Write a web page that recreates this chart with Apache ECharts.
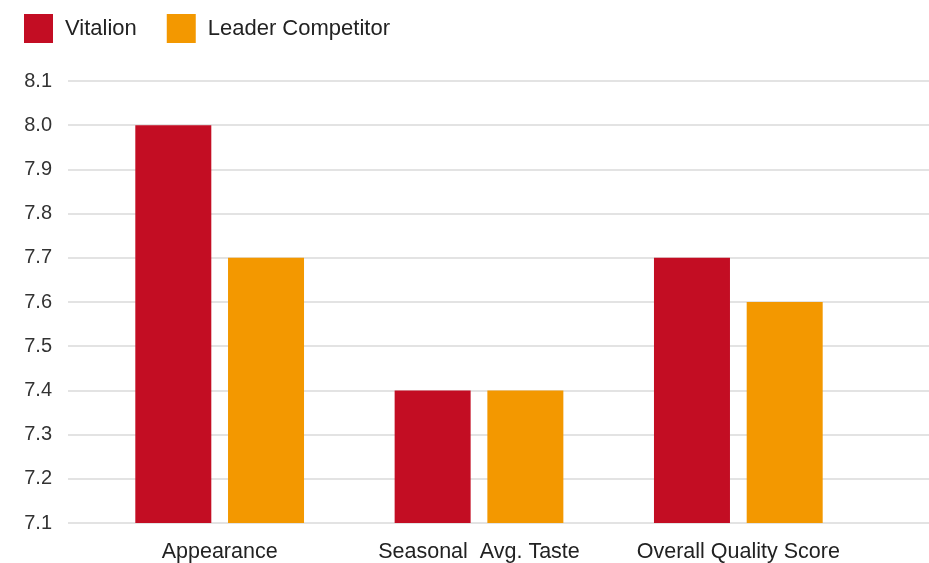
<!DOCTYPE html>
<html><head><meta charset="utf-8">
<script src="https://cdn.jsdelivr.net/npm/echarts@6/dist/echarts.min.js"></script>
<style>html,body{margin:0;padding:0;background:#fff}#c{width:929px;height:563px}</style>
</head><body><div id="c"></div>
<script>
const categories = ['Appearance', 'Seasonal  Avg. Taste', 'Overall Quality Score'];
const vitalion = [8.0, 7.4, 7.7];
const leader = [7.7, 7.4, 7.6];
const seriesNames = ['Vitalion', 'Leader Competitor'];
const yMin = 7.1, yMax = 8.1, yStep = 0.1;

const chart = echarts.init(document.getElementById('c'), null, {renderer: 'canvas'});
const font = 'Liberation Sans, Helvetica, Arial, sans-serif';
chart.setOption({
  animation: false,
  textStyle: {fontFamily: font},
  legend: {
    left: 19, top: 9, itemWidth: 29, itemHeight: 29, itemGap: 30,
    icon: 'rect',
    textStyle: {fontSize: 22, color: '#222', fontFamily: font, padding: [0, 0, 0, 7]},
    data: seriesNames
  },
  grid: [
    {left: 68, right: 0, top: 81, bottom: 40, containLabel: false},
    {left: 90, right: 61, top: 81, bottom: 40, containLabel: false}
  ],
  xAxis: [
    {gridIndex: 0, type: 'value', min: 0, max: 1, show: false},
    {gridIndex: 1, type: 'category', data: categories,
     axisLine: {show: false}, axisTick: {show: false},
     axisLabel: {fontSize: 21.5, color: '#222', margin: 18, fontFamily: font,
       interval: 0, hideOverlap: false}}
  ],
  yAxis: [
    {gridIndex: 0, type: 'value', min: yMin, max: yMax, interval: yStep,
     axisLine: {show: false}, axisTick: {show: false},
     axisLabel: {fontSize: 20, color: '#333', margin: 16, fontFamily: font,
       formatter: v => v.toFixed(1)},
     splitLine: {lineStyle: {color: '#e3e3e3', width: 2}}},
    {gridIndex: 1, type: 'value', min: yMin, max: yMax, interval: yStep, show: false,
     splitLine: {show: false}}
  ],
  series: [
    {name: seriesNames[0], type: 'bar', xAxisIndex: 1, yAxisIndex: 1, data: vitalion,
     barWidth: 76, barGap: '22%', itemStyle: {color: '#C30D23'}},
    {name: seriesNames[1], type: 'bar', xAxisIndex: 1, yAxisIndex: 1, data: leader,
     barWidth: 76, barGap: '22%', itemStyle: {color: '#F39800'}}
  ]
});
</script></body></html>
